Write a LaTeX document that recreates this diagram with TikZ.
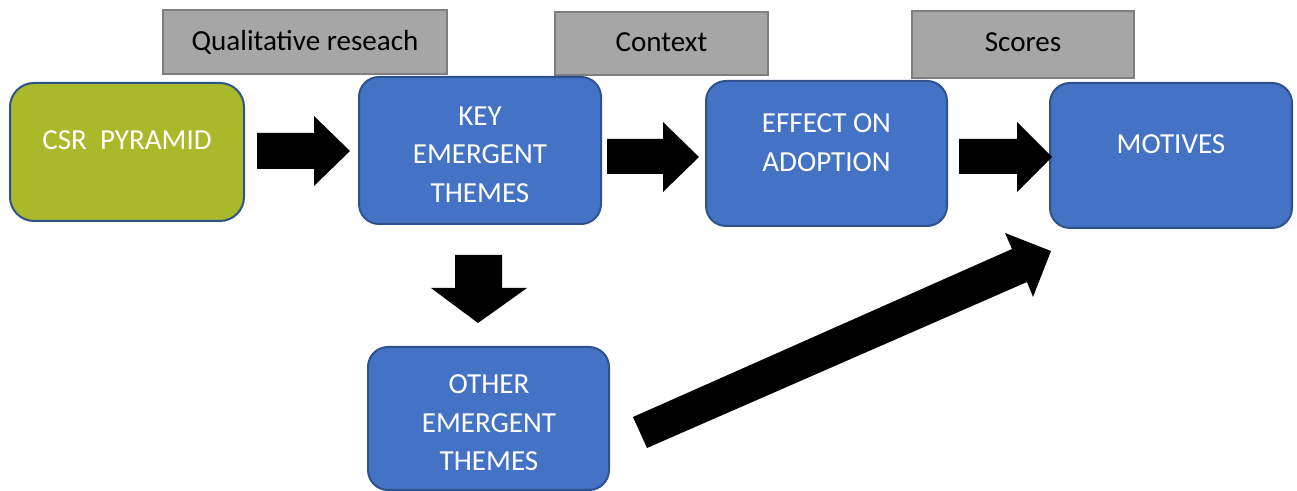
\documentclass[tikz,border=0pt]{standalone}
\usepackage{fontspec}
\setmainfont{Carlito}
\usetikzlibrary{fit}
\definecolor{boxblue}{HTML}{4472C4}
\definecolor{boxedge}{HTML}{2F528F}
\definecolor{csrgreen}{HTML}{A9B92A}
\definecolor{tagfill}{HTML}{A6A6A6}
\definecolor{tagedge}{HTML}{7F7F7F}
\begin{document}
\begin{tikzpicture}[x=0.75pt,y=-0.75pt,
  stage/.style={draw=boxedge, fill=boxblue, line width=1.5pt, rounded corners=15pt, inner sep=0pt},
  greenstage/.style={stage, fill=csrgreen},
  tag/.style={draw=tagedge, fill=tagfill, line width=1.5pt, inner sep=0pt},
  stagetext/.style={text=white, align=center, inner sep=0pt, font=\fontsize{21.8}{29}\selectfont},
  tagtext/.style={text=black, inner sep=0pt, anchor=base, font=\fontsize{21.8}{29}\selectfont},
  blockarrow/.style={fill=black, draw=none}]
\useasboundingbox (0,0) rectangle (1297,491);
\clip (0,0) rectangle (1297,491);

% label tags
\node[tag, fit={(163,10) (447,74)}] (qual) {};
\node[tagtext] (qualt) at (305,51) {Qualitative reseach};
\node[tag, fit={(555,12) (768,75)}] (ctx) {};
\node[tagtext] (ctxt) at (661.5,52) {Context};
\node[tag, fit={(912,11) (1134,78)}] (scr) {};
\node[tagtext] (scrt) at (1023,52) {Scores};

% stages
\node[greenstage, rounded corners=18pt, fit={(10,83) (244,221)}] (csr) {};
\node[tagtext, text=white] (csrt) at (127,150) {CSR\ \ PYRAMID};
\node[stage, fit={(359,77) (601,224)}] (key) {};
\node[stagetext] (keyt) at (480,154.5) {KEY\\EMERGENT\\THEMES};
\node[stage, fit={(706,81) (947,226)}] (eff) {};
\node[stagetext] (efft) at (826.5,142.5) {EFFECT ON\\ADOPTION};
\node[stage, fit={(1050,83) (1292,228)}] (mot) {};
\node[stagetext] (mott) at (1171,144) {MOTIVES};
\node[stage, fit={(368,347) (609,490)}] (oth) {};
\node[stagetext] (otht) at (489,423) {OTHER\\EMERGENT\\THEMES};

% block arrows
\fill[blockarrow] (257,133) -- (314,133) -- (314,116) -- (350,151) -- (314,186) -- (314,169) -- (257,169) -- cycle;
\fill[blockarrow] (607,139) -- (663,139) -- (663,122) -- (699,157) -- (663,192) -- (663,174) -- (607,174) -- cycle;
\fill[blockarrow] (959,139) -- (1017,139) -- (1017,122) -- (1052,157) -- (1017,192) -- (1017,174) -- (959,174) -- cycle;
\fill[blockarrow] (455,255) -- (502,255) -- (502,288) -- (527,288) -- (478,323) -- (431,288) -- (455,288) -- cycle;
\fill[blockarrow] (633,417) -- (1012,249) -- (1005,233) -- (1051,251) -- (1033,297) -- (1027,282) -- (647,448) -- cycle;
\end{tikzpicture}
\end{document}
